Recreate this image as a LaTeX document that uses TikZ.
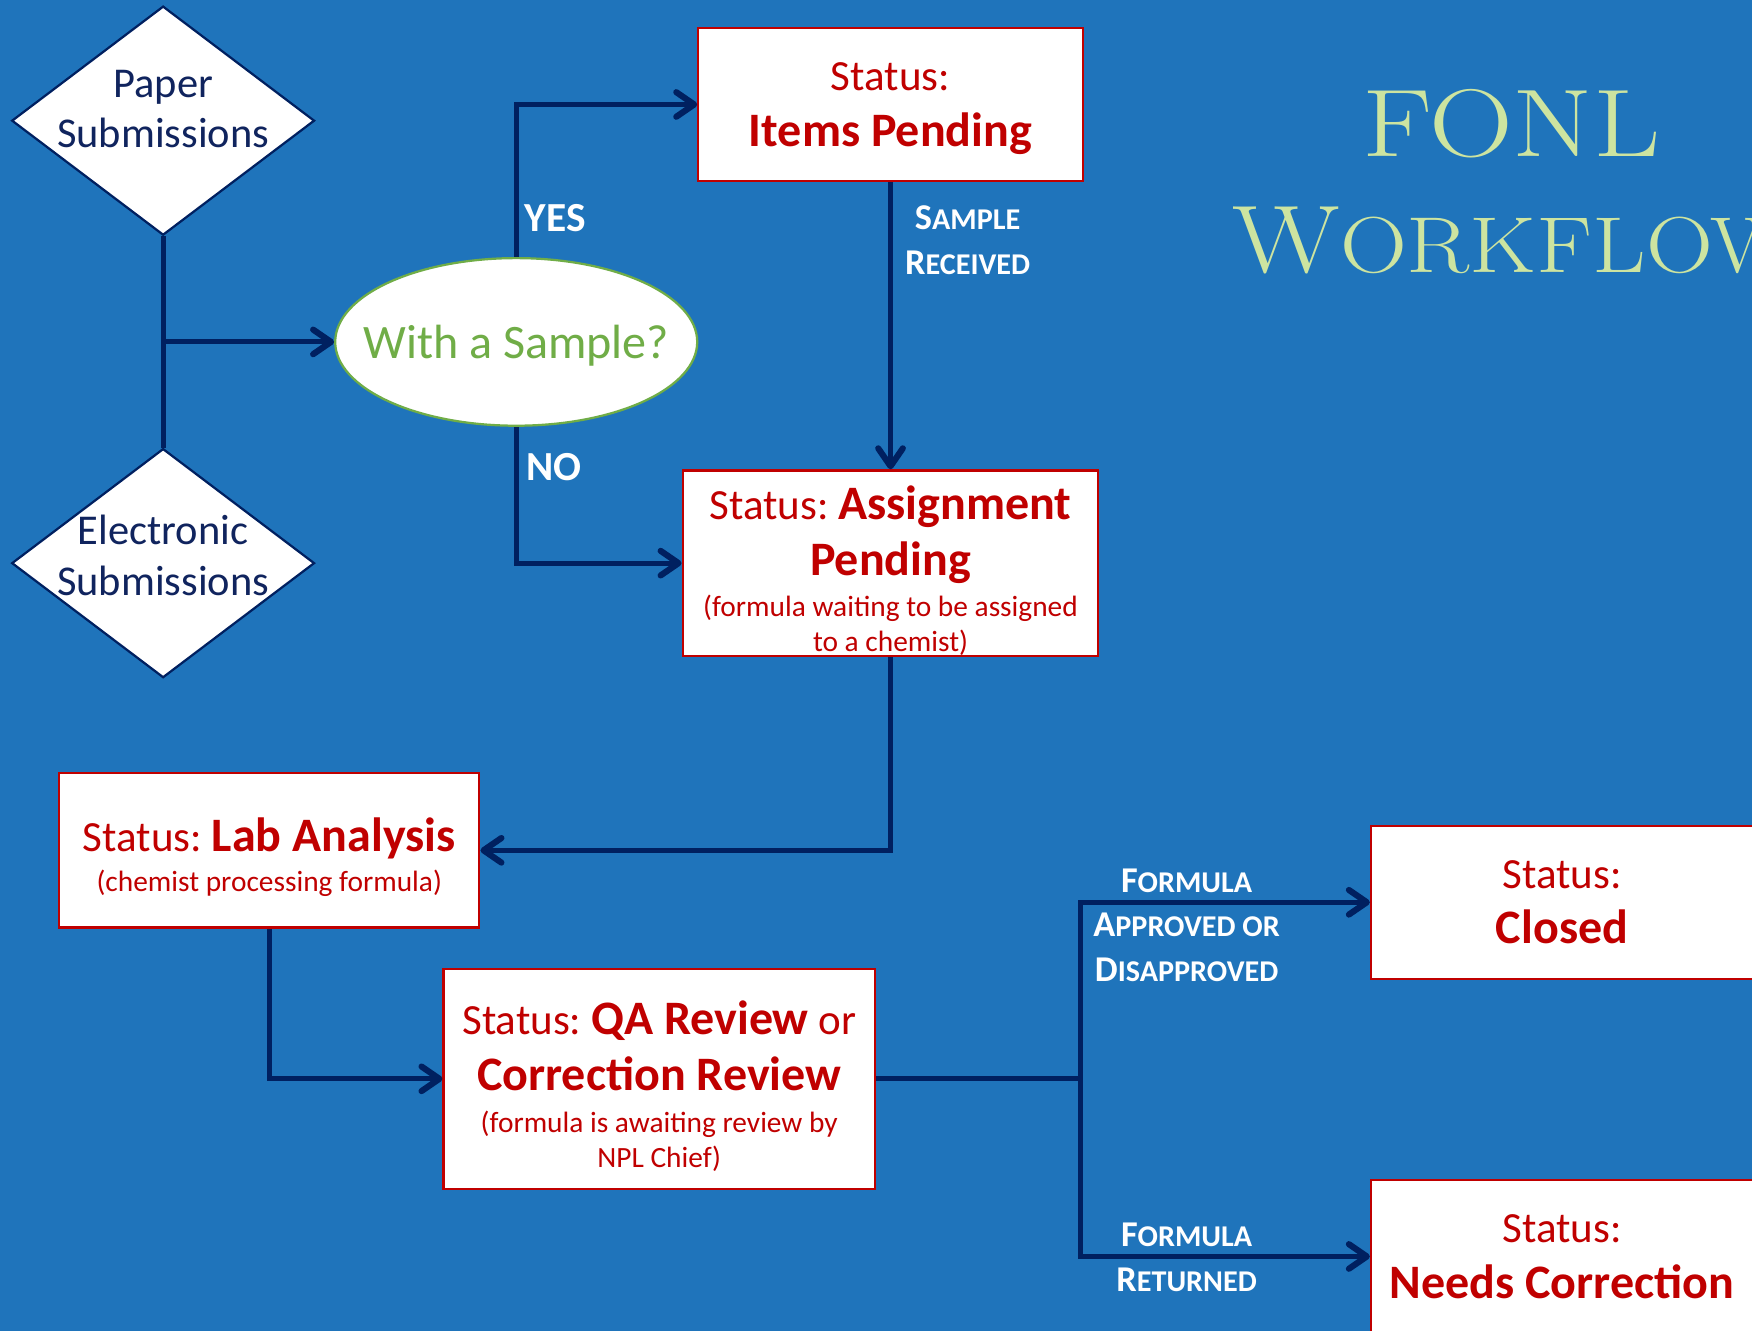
\documentclass[tikz,border=0pt]{standalone}
\usepackage{fontspec}
\usepackage{graphicx}
\newfontfamily\calibri{Carlito}
\usetikzlibrary{arrows.meta,shapes.geometric}
\definecolor{bgblue}{RGB}{31,116,187}
\definecolor{navy}{RGB}{0,32,96}
\definecolor{boxred}{RGB}{192,0,0}
\definecolor{leafgreen}{RGB}{112,173,71}
\definecolor{titlegreen}{RGB}{205,228,160}
\definecolor{inknavy}{RGB}{16,36,94}
\newcommand\bigb[1]{{\fontsize{43}{50}\selectfont\bfseries #1}}
\newcommand\subt[1]{{\fontsize{26.3}{31}\selectfont #1}}
\newcommand\ssc[2]{{\fontsize{32.5}{40}\selectfont #1}{\fontsize{27}{40}\selectfont #2}}
\newcommand\topstrut[1]{\rule{0pt}{#1}}
\frenchspacing
\begin{document}
\begin{tikzpicture}[x=1pt,y=-1pt,
  conn/.style={draw=navy,line width=4.6pt},
  arr/.style={conn,-{Straight Barb[length=16pt,width=22pt,line width'=5.5pt,round]}},
  statusbox/.style={draw=boxred,line width=2pt,fill=white,text=boxred,align=center,inner sep=0pt,font=\calibri\frenchspacing\fontsize{38.5}{50}\selectfont},
  diamondbox/.style={diamond,draw=navy,line width=2pt,fill=white,inner sep=0pt,minimum width=271pt,minimum height=205pt},
  diamondtext/.style={text=inknavy,align=center,font=\calibri\fontsize{38}{45}\selectfont},
  ovalbox/.style={ellipse,draw=leafgreen,line width=2pt,fill=white,inner sep=0pt,minimum width=324pt,minimum height=150pt},
  ovaltext/.style={text=leafgreen,font=\calibri\fontsize{43}{50}\selectfont},
  flowlabel/.style={text=white,align=center,font=\calibri\bfseries\fontsize{37}{40}\selectfont},
  titletext/.style={text=titlegreen,inner sep=0pt},
]
\useasboundingbox (0,0) rectangle (1568,1191);
\clip (0,0) rectangle (1568,1191);
\fill[bgblue] (0,0) rectangle (1568,1191);

% title
\node[titletext,anchor=base] (fonl) at (1352.5,140) {\scalebox{1.21}[1]{\fontsize{86}{90}\selectfont FONL}};
\node[titletext,anchor=base west] (workflow) at (1103,243.6) {\scalebox{1.17}[1]{{\fontsize{86}{90}\selectfont W}{\fontsize{71}{90}\selectfont ORKFLOW}}};

% diamonds
\node[diamondbox] (paper) at (146,108) {};
\node[diamondtext] (papertxt) at (146,97.5) {Paper\\Submissions};
\node[diamondbox] (elec) at (146,504) {};
\node[diamondtext] (electxt) at (146,497) {Electronic\\Submissions};

% decision
\node[ovalbox] (sample) at (462,306) {};
\node[ovaltext] (sampletxt) at (462,309) {With a Sample?};

% status boxes
\node[statusbox,minimum width=344pt,minimum height=137pt] (items) at (797,93.5) {\topstrut{33pt}Status:\\ \bigb{Items Pending}};
\node[statusbox,minimum width=372pt,minimum height=166pt] (assign) at (797,504) {\topstrut{43pt}Status: \bigb{Assignment}\\ \bigb{Pending}\\[-13pt] \subt{(formula waiting to be assigned}\\[-19pt] \subt{to a chemist)}};
\node[statusbox,minimum width=376pt,minimum height=138pt] (lab) at (241,761) {\topstrut{43pt}Status: \bigb{Lab Analysis}\\[-14pt] \subt{(chemist processing formula)}};
\node[statusbox,minimum width=386pt,minimum height=197pt] (qa) at (590,965.5) {\topstrut{43pt}Status: \bigb{QA Review} or\\ \bigb{Correction Review}\\[-12pt] \subt{(formula is awaiting review by}\\[-19pt] \subt{NPL Chief)}};
\node[statusbox,minimum width=342pt,minimum height=137pt] (closed) at (1398,807.5) {Status:\\ \bigb{Closed}};
\node[statusbox,minimum width=342pt,minimum height=137pt] (needs) at (1398,1124.5) {Status:\\ \bigb{Needs Correction}};

% connectors
\coordinate (join) at (146,306);
\coordinate (split) at (967,965.5);
\draw[conn] (paper.south) -- (elec.north);
\draw[arr] (join) -- (sample.west);
\draw[arr] (sample.north) |- (items.west);
\draw[arr] (sample.south) |- (assign.west);
\draw[arr] (items.south) -- (assign.north);
\draw[arr] (assign.south) |- (lab.east);
\draw[arr] (lab.south) |- (qa.west);
\draw[conn] (qa.east) -- (split);
\draw[arr] (split) |- (closed.west);
\draw[arr] (split) |- (needs.west);

% labels
\node[flowlabel] (yes) at (497,195) {YES};
\node[flowlabel] (no) at (496,418) {NO};
\node[flowlabel] (received) at (866,215) {\ssc{S}{AMPLE}\\ \ssc{R}{ECEIVED}};
\node[flowlabel] (approved) at (1062,828) {\ssc{F}{ORMULA}\\ \ssc{A}{PPROVED OR}\\ \ssc{D}{ISAPPROVED}};
\node[flowlabel] (returned) at (1062,1125) {\ssc{F}{ORMULA}\\ \ssc{R}{ETURNED}};
\end{tikzpicture}
\end{document}
